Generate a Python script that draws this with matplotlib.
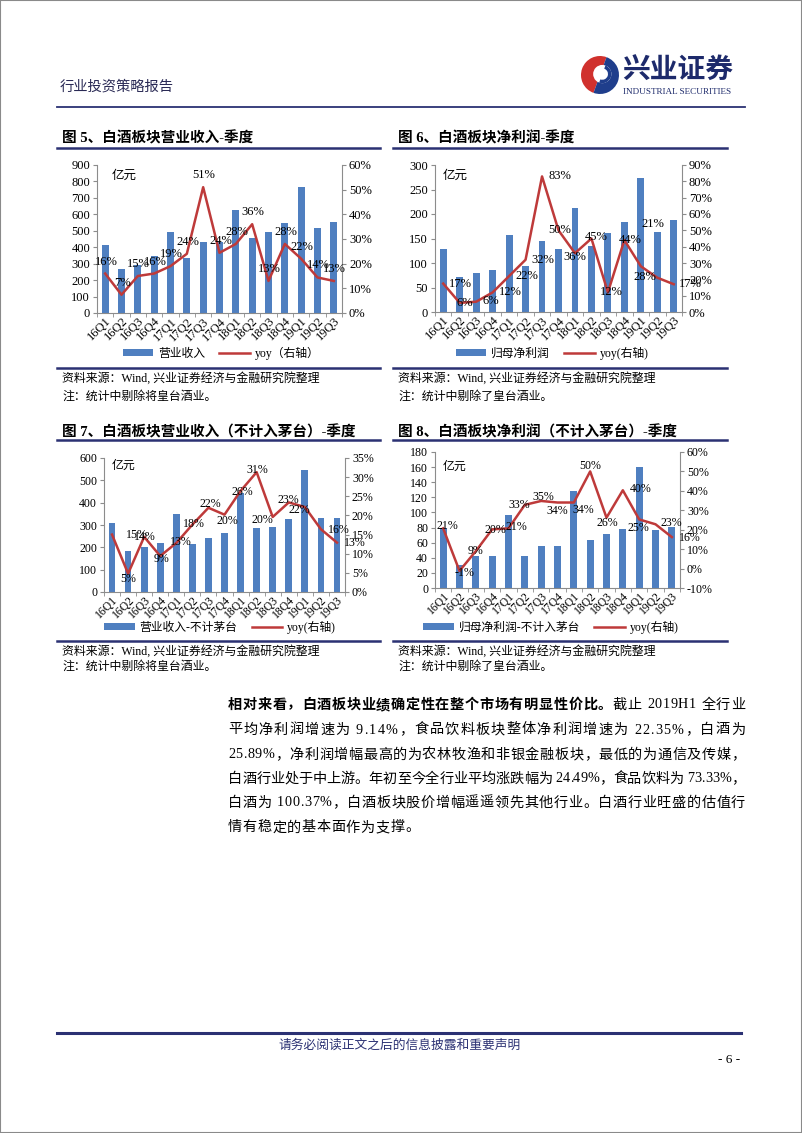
import matplotlib
matplotlib.use('Agg')
import matplotlib.pyplot as plt
from matplotlib.lines import Line2D
from matplotlib.patches import Rectangle, Wedge, Circle, Patch
import numpy as np

plt.rcParams['font.family'] = ['Liberation Serif', 'Noto Sans CJK SC']
plt.rcParams['axes.unicode_minus'] = False

W, H = 802, 1133
fig = plt.figure(figsize=(W / 100, H / 100), dpi=100)

# ---------------- data ----------------
quarters = ['16Q1', '16Q2', '16Q3', '16Q4', '17Q1', '17Q2', '17Q3', '17Q4',
            '18Q1', '18Q2', '18Q3', '18Q4', '19Q1', '19Q2', '19Q3']

revenue = [411, 269, 292, 344, 490, 334, 433, 430, 627, 455, 490, 550, 769, 516, 553]
revenue_yoy = [16.0, 7.4, 15.0, 16.0, 19.0, 24.0, 51.0, 24.4, 28.0, 36.0, 13.0, 28.0, 22.0, 14.4, 13.0]

profit = [128, 72, 79, 85, 157, 93, 145, 129, 213, 135, 162, 184, 273, 164, 188]
profit_yoy = [17.4, 5.6, 6.3, 12.0, 22.0, 32.0, 83.0, 50.0, 36.0, 45.0, 12.0, 44.0, 28.0, 21.0, 17.0]

revenue_ex = [310, 184, 200, 219, 351, 216, 243, 264, 445, 285, 291, 325, 545, 333, 330]
revenue_ex_yoy = [15.0, 4.8, 14.4, 9.4, 12.8, 17.6, 22.0, 20.2, 26.4, 31.3, 19.6, 23.4, 22.2, 16.4, 12.9]

profit_ex = [79, 31, 42, 42, 96, 42, 56, 56, 128, 63, 71, 78, 160, 77, 81]
profit_ex_yoy = [20.7, -1.2, 9.0, 20.2, 20.7, 32.8, 34.8, 34.0, 34.0, 50.0, 26.2, 40.3, 25.3, 22.8, 16.2]

# ---------------- styles ----------------
NAVY = '#2B3173'
BLUE = '#4F7FC0'
RED = '#BE3A3A'
GRAY = '#8C8C8C'


def fx(x):
    return x / W


def fy(y):
    return 1 - y / H


def hline(y, x0, x1, lw=1.5, color=NAVY):
    fig.add_artist(Line2D([fx(x0), fx(x1)], [fy(y), fy(y)], lw=lw, color=color))


def ftext(x, y, s, **kw):
    kw.setdefault('va', 'center')
    return fig.text(fx(x), fy(y), s, **kw)


# per-point label offsets in pixels (dx, dy up)
off5 = [(1, 12)] * 15
off6 = [(17, 0), (5, 0), (15, 1), (18, 0), (18, 0), (17, 0), (18, 0), (1, 0),
        (0, -4), (5, 1), (3, 0), (6, 0), (4, -11), (-4, 54), (17, 0)]
off7 = [(25, 0), (0, -5), (1, 0), (1, -3), (5, 1), (2, 1), (2, 4), (3, -6),
        (2, -1), (1, 2), (-10, -3), (0, 2), (-6, -3), (18, -1), (18, 0)]
off8 = [(4, 2), (5, -2), (0, 0), (3, -1), (8, 1), (-6, 0), (2, 4), (0, -8),
        (9, -7), (0, 5), (1, -5), (18, 1), (-1, -9), (16, 1), (18, -1)]


def chart(box, bars, yoy, lmax, lstep, rmin, rmax, rstep, offsets, unit_pos,
          legend_labels, legend_xy, fs=9, xfs=9):
    x0, y0, x1, y1 = box
    ax = fig.add_axes([fx(x0), fy(y1), (x1 - x0) / W, (y1 - y0) / H])
    ax2 = ax.twinx()
    idx = np.arange(len(quarters))
    ax.bar(idx, bars, width=0.42, color=BLUE, zorder=2)
    ax.set_xlim(-0.5, len(quarters) - 0.5)
    ax.set_ylim(0, lmax)
    ax.set_yticks(np.arange(0, lmax + 1e-9, lstep))
    ax.set_xticks(idx)
    ax.set_xticklabels(quarters, rotation=45, ha='right', va='top',
                       rotation_mode='anchor', fontsize=xfs)
    ax.set_xticks(np.arange(-0.5, len(quarters), 1), minor=True)
    ax.tick_params(axis='x', which='major', length=0, pad=1.5)
    ax.tick_params(axis='x', which='minor', length=3, color=GRAY, direction='out')
    ax.tick_params(axis='y', length=3, color=GRAY, labelsize=fs, pad=2)

    ax2.plot(idx, yoy, color=RED, lw=1.8, zorder=3)
    ax2.set_ylim(rmin, rmax)
    ax2.set_yticks(np.arange(rmin, rmax + 1e-9, rstep))
    ax2.yaxis.set_major_formatter(lambda v, p: f'{v:.0f}%')
    ax2.tick_params(axis='y', length=3, color=GRAY, labelsize=fs, pad=2)

    for a in (ax, ax2):
        a.spines['top'].set_visible(False)
        a.patch.set_visible(False)
    ax.spines['right'].set_visible(False)
    ax2.spines['left'].set_visible(False)
    ax2.spines['bottom'].set_visible(False)
    for s in ('left', 'bottom'):
        ax.spines[s].set_color(GRAY)
    ax2.spines['right'].set_color(GRAY)

    for i, v in enumerate(yoy):
        dx, dy = offsets[i]
        ax2.annotate(f'{v:.0f}%', (i, v), xytext=(dx * 0.72, dy * 0.72),
                     textcoords='offset points', ha='center', va='center',
                     fontsize=fs, zorder=5)

    ax.text(unit_pos[0], unit_pos[1], '亿元', transform=ax.transAxes,
            fontsize=fs, ha='left', va='center')

    handles = [Patch(facecolor=BLUE), Line2D([], [], color=RED, lw=1.8)]
    fig.legend(handles, legend_labels, loc='center',
               bbox_to_anchor=(fx(legend_xy[0]), fy(legend_xy[1])), ncol=2,
               frameon=False, fontsize=8.5, handlelength=2.6, handleheight=0.55,
               handletextpad=0.4, columnspacing=1.2, borderpad=0.1)
    return ax, ax2


# ---------------- page frame / header ----------------
fig.add_artist(Rectangle((0, 0), 1, 1, transform=fig.transFigure, fill=False,
                         edgecolor='#8A8A8A', lw=1.5))

ftext(60, 87, '行业投资策略报告', fontsize=10.3, color='#2A2A55', ha='left')

logo = fig.add_axes([fx(581), fy(94), 38 / W, 38 / H])
logo.set_xlim(-1, 1)
logo.set_ylim(-1, 1)
logo.set_aspect('equal')
logo.axis('off')
logo.add_patch(Wedge((0, 0), 1, 70, 250, facecolor='#D0312D'))
logo.add_patch(Wedge((0, 0), 1, 250, 70, facecolor='#1F3E8C'))
logo.add_patch(Circle((0.12, 0.05), 0.48, facecolor='white'))
logo.add_patch(Wedge((0.12, 0.05), 0.48, 250, 70, facecolor='#1F3E8C', width=0.18))
logo.add_patch(Circle((0.12, 0.05), 0.22, facecolor='white'))

ftext(622, 72, '兴业证券', fontsize=20, fontweight='bold', color='#1D2A6B', ha='left')
ftext(623, 92, 'INDUSTRIAL SECURITIES', fontsize=6.6, color='#1D2A6B', ha='left')

hline(107, 57, 745, lw=1.3)

# ---------------- titles & charts row 1 ----------------
ftext(62, 138, '图 5、白酒板块营业收入-季度', fontsize=10.5, fontweight='bold', ha='left')
ftext(398, 138, '图 6、白酒板块净利润-季度', fontsize=10.5, fontweight='bold', ha='left')
hline(148, 57, 380, lw=1.8)
hline(148, 393, 727, lw=1.8)

chart((97, 165, 342, 313), revenue, revenue_yoy, 900, 100, 0, 60, 10, off5,
      (0.06, 0.925), ['营业收入', 'yoy（右轴）'], (221, 353))
chart((435, 165, 682, 312), profit, profit_yoy, 300, 50, 0, 90, 10, off6,
      (0.03, 0.925), ['归母净利润', 'yoy(右轴)'], (552, 353))

hline(368, 57, 380, lw=1.8)
hline(368, 393, 727, lw=1.8)
src = '资料来源：Wind, 兴业证券经济与金融研究院整理'
ftext(62, 378, src, fontsize=8.6, ha='left')
ftext(62, 397, '注：统计中剔除将皇台酒业。', fontsize=8.6, ha='left')
ftext(398, 378, src, fontsize=8.6, ha='left')
ftext(398, 397, '注：统计中剔除了皇台酒业。', fontsize=8.6, ha='left')

# ---------------- titles & charts row 2 ----------------
ftext(62, 432, '图 7、白酒板块营业收入（不计入茅台）-季度', fontsize=10.5, fontweight='bold', ha='left')
ftext(398, 432, '图 8、白酒板块净利润（不计入茅台）-季度', fontsize=10.5, fontweight='bold', ha='left')
hline(440, 57, 380, lw=1.8)
hline(440, 393, 727, lw=1.8)

chart((104, 458, 345, 592), revenue_ex, revenue_ex_yoy, 600, 100, 0, 35, 5, off7,
      (0.033, 0.94), ['营业收入-不计茅台', 'yoy(右轴)'], (220, 627), fs=8.6, xfs=8.4)
chart((435, 452, 680, 588), profit_ex, profit_ex_yoy, 180, 20, -10, 60, 10, off8,
      (0.03, 0.89), ['归母净利润-不计入茅台', 'yoy(右轴)'], (551, 627), fs=8.6, xfs=8.4)

hline(641, 57, 380, lw=1.8)
hline(641, 393, 727, lw=1.8)
ftext(62, 651, src, fontsize=8.6, ha='left')
ftext(62, 667, '注：统计中剔除将皇台酒业。', fontsize=8.6, ha='left')
ftext(398, 651, src, fontsize=8.6, ha='left')
ftext(398, 667, '注：统计中剔除了皇台酒业。', fontsize=8.6, ha='left')

# ---------------- body paragraph (justified) ----------------
body_lines = [
    [('相对来看，白酒板块业绩确定性在整个市场有明显性价比。', True), ('截止 2019H1 全行业', False)],
    [('平均净利润增速为 9.14%，食品饮料板块整体净利润增速为 22.35%，白酒为', False)],
    [('25.89%，净利润增幅最高的为农林牧渔和非银金融板块，最低的为通信及传媒，', False)],
    [('白酒行业处于中上游。年初至今全行业平均涨跌幅为 24.49%，食品饮料为 73.33%，', False)],
    [('白酒为 100.37%，白酒板块股价增幅遥遥领先其他行业。白酒行业旺盛的估值行', False)],
    [('情有稳定的基本面作为支撑。', False)],
]
line_y = [705, 730, 755, 779, 803, 828]
BX0, BX1 = 228, 745
BFS = 10.2

renderer = fig.canvas.get_renderer()


def char_width(ch, bold):
    if ch == ' ':
        return BFS * 100 / 72 * 0.28
    t = fig.text(0, 0, ch, fontsize=BFS, fontweight='bold' if bold else 'normal')
    w = t.get_window_extent(renderer=renderer).width
    t.remove()
    return w


gaps = []
for li, segs in enumerate(body_lines):
    chars = [(c, b) for s, b in segs for c in s]
    widths = [char_width(c, b) for c, b in chars]
    total = sum(widths)
    if li < len(body_lines) - 1:
        gap = (BX1 - BX0 - total) / (len(chars) - 1)
        gaps.append(gap)
    else:
        gap = np.mean(gaps)
    x = BX0
    for (c, b), w in zip(chars, widths):
        if c != ' ':
            ftext(x, line_y[li], c, fontsize=BFS, fontweight='bold' if b else 'normal',
                  ha='left')
        x += w + gap

# ---------------- footer ----------------
hline(1033, 57, 741, lw=2.2)
ftext(400, 1045, '请务必阅读正文之后的信息披露和重要声明', fontsize=9.2, color=NAVY, ha='center')
ftext(740, 1060, '- 6 -', fontsize=9.5, ha='right')

fig.savefig('out.png', dpi=100)
